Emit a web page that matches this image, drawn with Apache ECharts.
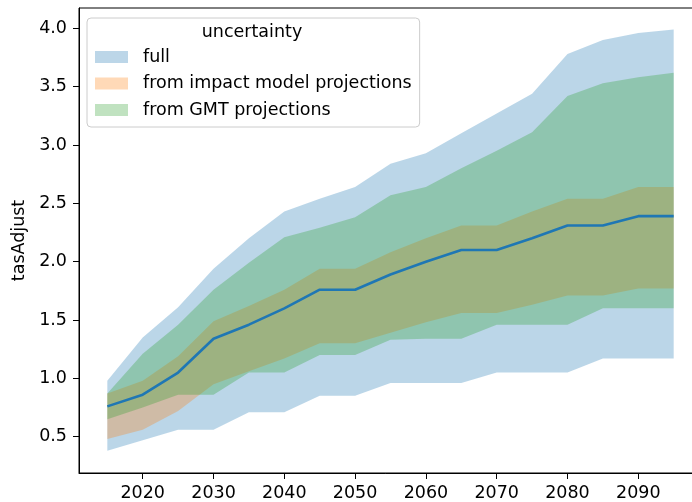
<!DOCTYPE html>
<html>
<head>
<meta charset="utf-8">
<script src="https://cdn.jsdelivr.net/npm/echarts@6/dist/echarts.min.js"></script>
<style>
  html, body { margin: 0; padding: 0; background: #fff; }
  #chart { width: 692px; height: 502px; }
</style>
</head>
<body>
<div id="chart"></div>
<script>
const years = [2015, 2020, 2025, 2030, 2035, 2040, 2045, 2050, 2055, 2060, 2065, 2070, 2075, 2080, 2085, 2090, 2095];
const median = [0.76, 0.86, 1.05, 1.34, 1.46, 1.60, 1.76, 1.76, 1.89, 2.00, 2.10, 2.10, 2.20, 2.31, 2.31, 2.39, 2.39];
const fullLower = [0.38, 0.47, 0.56, 0.56, 0.71, 0.71, 0.85, 0.85, 0.96, 0.96, 0.96, 1.05, 1.05, 1.05, 1.17, 1.17, 1.17];
const fullUpper = [0.98, 1.35, 1.61, 1.94, 2.20, 2.43, 2.54, 2.64, 2.84, 2.93, 3.10, 3.27, 3.44, 3.78, 3.90, 3.96, 3.99];
const impactLower = [0.48, 0.56, 0.72, 0.95, 1.06, 1.17, 1.30, 1.30, 1.39, 1.48, 1.56, 1.56, 1.63, 1.71, 1.71, 1.77, 1.77];
const impactUpper = [0.87, 0.98, 1.19, 1.49, 1.62, 1.76, 1.94, 1.94, 2.08, 2.20, 2.31, 2.31, 2.43, 2.54, 2.54, 2.64, 2.64];
const gmtLower = [0.65, 0.75, 0.86, 0.86, 1.05, 1.05, 1.20, 1.20, 1.33, 1.34, 1.34, 1.46, 1.46, 1.46, 1.60, 1.60, 1.60];
const gmtUpper = [0.87, 1.21, 1.46, 1.76, 1.99, 2.21, 2.29, 2.38, 2.57, 2.64, 2.80, 2.95, 3.11, 3.42, 3.53, 3.58, 3.62];
const xTicks = [2020, 2030, 2040, 2050, 2060, 2070, 2080, 2090];
const yTicks = [0.5, 1.0, 1.5, 2.0, 2.5, 3.0, 3.5, 4.0];
const bandNames = ['full', 'from impact model projections', 'from GMT projections'];
const legendTitle = 'uncertainty';
const yName = 'tasAdjust';

const FONT = 'DejaVu Sans';
const FS = 17.5;

function band(name, lower, upper, color) {
  // one data row per year: [year, lower, upper]
  const rows = years.map((x, i) => [x, lower[i], upper[i]]);
  return {
    name: name, type: 'custom', silent: true, color: color,
    encode: { x: 0, y: [1, 2] },
    data: rows,
    renderItem: function (params, api) {
      if (params.dataIndex !== 0) return null;
      const top = rows.map(r => api.coord([r[0], r[2]]));
      const bot = rows.slice().reverse().map(r => api.coord([r[0], r[1]]));
      return {
        type: 'polygon',
        shape: { points: top.concat(bot) },
        style: { fill: color, opacity: 0.3 }
      };
    }
  };
}

const chart = echarts.init(document.getElementById('chart'), null, { renderer: 'canvas' });
chart.setOption({
  animation: false,
  backgroundColor: '#fff',
  textStyle: { fontFamily: FONT },
  grid: { left: 79, top: 8, width: 623, height: 465, outerBoundsMode: 'none', containLabel: false,
          show: true, borderColor: '#000', borderWidth: 1, backgroundColor: 'transparent' },
  xAxis: {
    type: 'value', min: 2011, max: 2099,
    axisLine: { show: true, lineStyle: { color: '#000', width: 1 } },
    axisTick: { show: true, length: 6, customValues: xTicks, lineStyle: { color: '#000', width: 1 } },
    axisLabel: { customValues: xTicks, margin: 11, fontSize: FS, color: '#000', fontFamily: FONT, formatter: v => String(v) },
    splitLine: { show: false }
  },
  yAxis: {
    type: 'value', min: 0.189, max: 4.174,
    name: yName, nameLocation: 'middle', nameGap: 49, nameRotate: 90,
    nameTextStyle: { fontSize: FS, color: '#000', fontFamily: FONT },
    axisLine: { show: true, lineStyle: { color: '#000', width: 1 } },
    axisTick: { show: true, length: 6, customValues: yTicks, lineStyle: { color: '#000', width: 1 } },
    axisLabel: { customValues: yTicks, margin: 12, fontSize: FS, color: '#000', fontFamily: FONT, formatter: v => v.toFixed(1) },
    splitLine: { show: false }
  },
  legend: {
    orient: 'vertical', left: 87, top: 18,
    padding: [29, 8, 7, 8], itemGap: 6.5, itemWidth: 33, itemHeight: 12,
    backgroundColor: 'rgba(255,255,255,0.8)', borderColor: '#cccccc', borderWidth: 1, borderRadius: 4,
    selectedMode: false,
    textStyle: { fontSize: FS, lineHeight: 20, color: '#000', fontFamily: FONT, padding: [0, 0, 0, 10] },
    data: [
      { name: bandNames[0], icon: 'rect', itemStyle: { color: '#bcd6e8', opacity: 1 } },
      { name: bandNames[1], icon: 'rect', itemStyle: { color: '#ffd9b7', opacity: 1 } },
      { name: bandNames[2], icon: 'rect', itemStyle: { color: '#c0e2c0', opacity: 1 } }
    ]
  },
  graphic: [{
    type: 'text', x: 252, y: 32, z: 100,
    style: { text: legendTitle, fontSize: FS, fontFamily: FONT, fill: '#000', align: 'center', verticalAlign: 'middle' }
  }],
  series: [
    band(bandNames[0], fullLower, fullUpper, '#1f77b4'),
    band(bandNames[1], impactLower, impactUpper, '#ff7f0e'),
    band(bandNames[2], gmtLower, gmtUpper, '#2ca02c'),
    {
      name: 'median', type: 'line', symbol: 'none', z: 5, silent: true,
      color: '#1f77b4', lineStyle: { color: '#1f77b4', width: 2.6 },
      data: years.map((x, i) => [x, median[i]])
    }
  ]
});
</script>
</body>
</html>
